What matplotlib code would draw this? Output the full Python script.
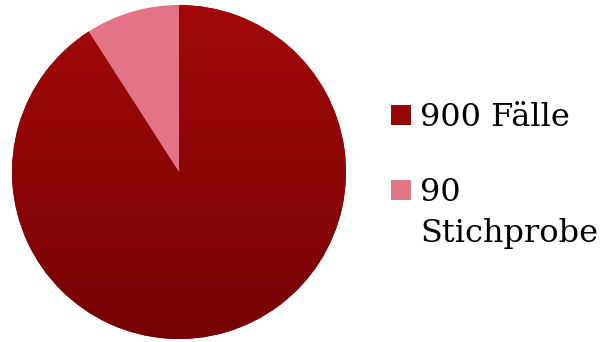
import matplotlib.pyplot as plt
import numpy as np
from matplotlib.colors import LinearSegmentedColormap
from matplotlib.patches import Rectangle

labels = ["900 Fälle", "90\nStichprobe"]
values = [900, 90]
colors = ["#8c0606", "#e27486"]

W, H = 603, 342
fig = plt.figure(figsize=(W / 100, H / 100), dpi=100)

# pie axes: centre (179, 172) px from top, radius 167 px
cx, cy, r = 179, H - 172, 167
ax = fig.add_axes([(cx - r) / W, (cy - r) / H, 2 * r / W, 2 * r / H])
wedges, _ = ax.pie(values, colors=colors, startangle=90, counterclock=False,
                   radius=1.0, wedgeprops=dict(linewidth=0))
ax.set_xlim(-1, 1)
ax.set_ylim(-1, 1)
ax.set_aspect("equal")
ax.axis("off")

# vertical gradient on the big slice
grad = LinearSegmentedColormap.from_list("g", ["#760303", "#a20909"])
img = ax.imshow(np.linspace(0, 1, 256).reshape(-1, 1), cmap=grad, origin="lower",
                extent=(-1, 1, -1, 1), aspect="auto", zorder=wedges[0].get_zorder() + 0.1)
img.set_clip_path(wedges[0])
ax.set_xlim(-1, 1)
ax.set_ylim(-1, 1)

# legend: square top (px from top) and first baseline for each entry
square_top = [105, 180]
first_base = [126, 201]
line_step = 41
for lab, col, sq, base in zip(labels, colors, square_top, first_base):
    fc = "#950707" if col == colors[0] else col
    fig.patches.append(Rectangle((391 / W, (H - sq - 20) / H), 20 / W, 20 / H,
                                 transform=fig.transFigure, facecolor=fc,
                                 edgecolor="none"))
    for i, line in enumerate(lab.split("\n")):
        fig.text(420 / W, (H - base - i * line_step) / H, line, fontsize=23,
                 family="DejaVu Serif", va="baseline", ha="left", color="black")

fig.savefig("out.png", dpi=100)
